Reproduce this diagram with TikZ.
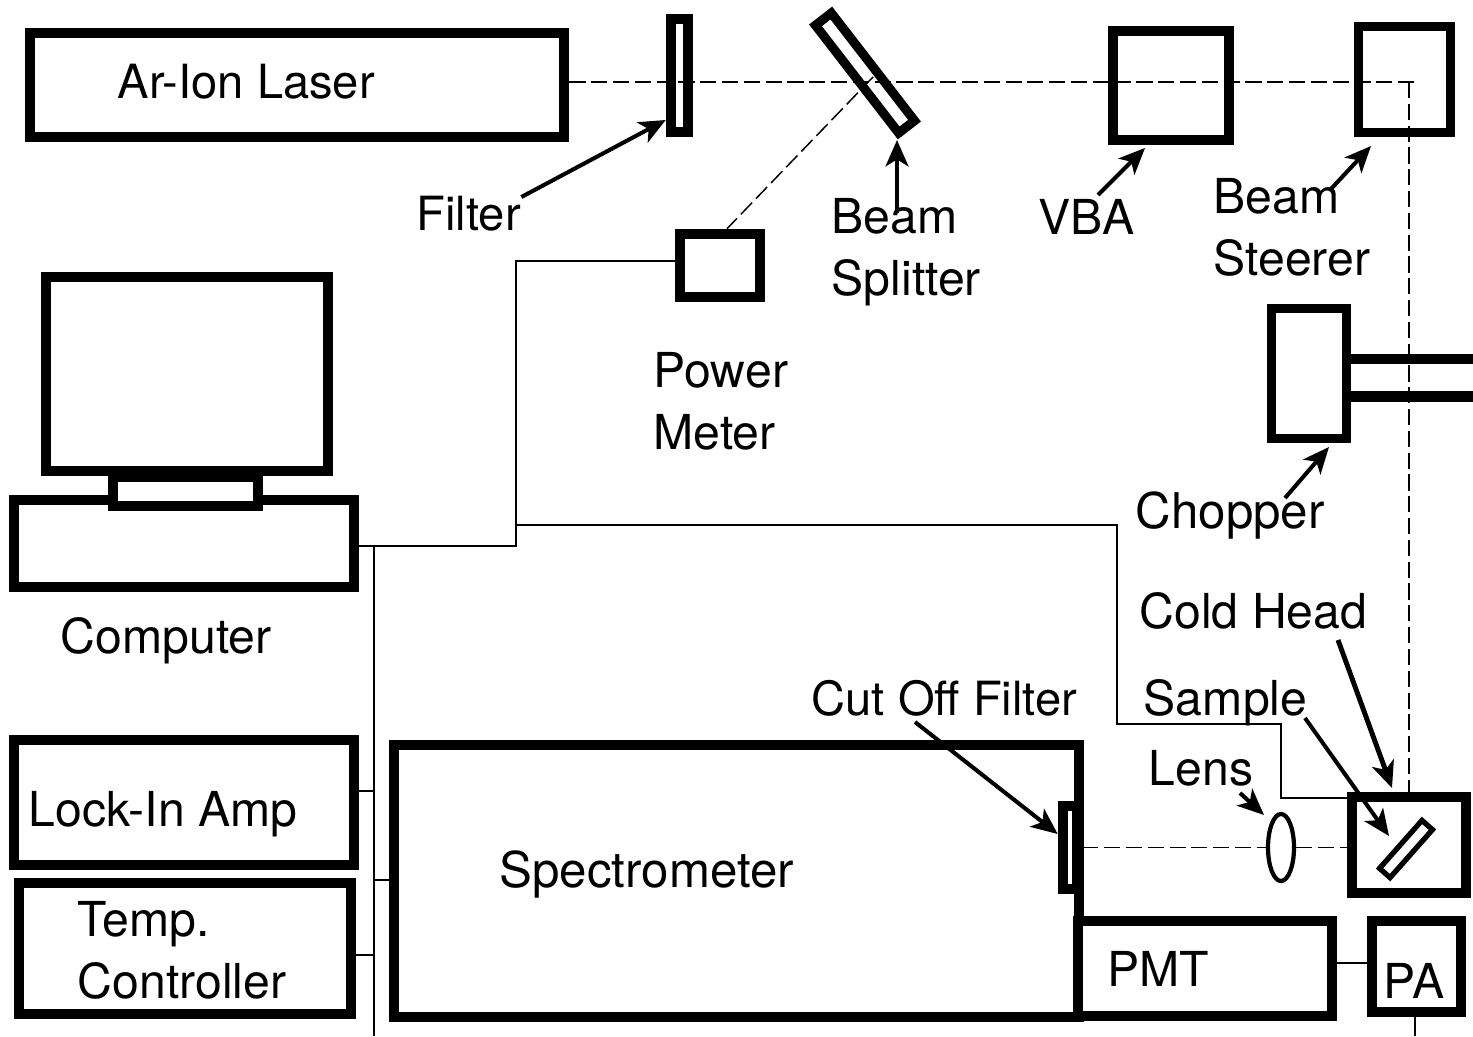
\documentclass[tikz,border=0pt]{standalone}
\usepackage{fontspec}
\setmainfont{TeX Gyre Heros}
\usetikzlibrary{arrows.meta,shapes.geometric}
\tikzset{
	box/.style={draw=black, line width=3pt, inner sep=0pt, fill=white},
	wire/.style={line width=0.42pt},
	beam/.style={line width=0.42pt, dash pattern=on 4.6pt off 1.6pt},
	pointer/.style={line width=1.15pt, -{Stealth[length=7.5pt,width=6.5pt,inset=2pt]}},
	caption/.style={inner sep=0pt, anchor=base west, align=left, font=\fontsize{13.7}{17.4}\selectfont},
	tightcaption/.style={caption, font=\fontsize{13.4}{17.4}\selectfont},
	widecaption/.style={caption, font=\fontsize{14}{17.4}\selectfont},
}

\begin{document}
\begin{tikzpicture}[x=0.01cm, y=-0.01cm]
		%%%%% START %%%%%
		\useasboundingbox (0, 0) rectangle (1473, 1036);
		
		\node[box, minimum width=5.34cm, minimum height=1.04cm] (laser) at (297, 85) {};
		\node[box, minimum width=0.17cm, minimum height=1.13cm] (filter) at (679.5, 75.5) {};
		\node[box, line width=2.6pt, minimum width=1.36cm, minimum height=0.20cm, rotate=-52.3] (splitter) at (865, 73) {};
		\node[box, minimum width=1.16cm, minimum height=1.09cm] (vba) at (1171, 85.5) {};
		\node[box, line width=2.7pt, minimum width=0.92cm, minimum height=1.06cm] (steerer) at (1404.5, 79.5) {};
		\node[box, minimum width=0.80cm, minimum height=0.63cm] (meter) at (720, 265.5) {};
		\node[box, line width=2.7pt, minimum width=0.75cm, minimum height=1.30cm] (chopper) at (1309, 373.5) {};
		
		\node[box, minimum width=3.40cm, minimum height=0.87cm] (computer) at (184, 543.5) {};
		\node[box, minimum width=1.45cm, minimum height=0.29cm] (stand) at (185.5, 491.5) {};
		\node[box, minimum width=2.82cm, minimum height=1.94cm] (monitor) at (187, 374) {};
		\node[box, minimum width=3.40cm, minimum height=1.25cm] (lockin) at (184, 802.5) {};
		\node[box, minimum width=3.32cm, minimum height=1.31cm] (tempctl) at (185, 948.5) {};
		
		\node[box, minimum width=6.85cm, minimum height=2.72cm] (spectro) at (736.5, 881) {};
		\node[draw, line width=3pt, inner sep=0pt, minimum width=0.14cm, minimum height=0.83cm] (cutoff) at (1070, 847.5) {};
		\node[box, minimum width=2.54cm, minimum height=0.95cm] (pmt) at (1205, 968.5) {};
		\node[box, minimum width=0.89cm, minimum height=0.91cm] (pa) at (1416.5, 966.5) {};
		\node[box, minimum width=1.14cm, minimum height=0.96cm] (coldhead) at (1409, 845) {};
		\node[box, line width=1.5pt, minimum width=0.64cm, minimum height=0.14cm, rotate=48.5] (sample) at (1406, 849) {};
		\node[draw, ellipse, line width=1.2pt, inner sep=0pt, minimum width=0.26cm, minimum height=0.67cm] (lens) at (1281, 847.5) {};
		
		\coordinate (beamturn) at (1409, 82);
		\coordinate (beamend) at (1417, 82);
		\coordinate (splitpoint) at (873, 77);
		\draw[beam] (laser.east |- 0, 82) -- (beamend);
		\draw[beam] (beamturn) -- (coldhead.north);
		\draw[beam] (splitpoint) -- (meter.north -| 727, 0);
		\draw[beam] (cutoff.east) -- (lens.west);
		\draw[beam] (lens.east) -- (coldhead.west |- lens.east);
		
		\coordinate (wirejoin) at (516, 525);
		\coordinate (busend) at (374, 1036);
		\coordinate (pabelow) at (1415, 1036);
		\draw[wire] (computer.east |- 0, 546) -- (516, 546) -- (516, 261) -- (meter.west |- 0, 261);
		\draw[wire] (wirejoin) -- (1117, 525) -- (1117, 724) -- (1281, 724) -- (1281, 798) -- (coldhead.west |- 0, 798);
		\draw[wire] (374, 546) -- (busend);
		\draw[wire] (lockin.east |- 0, 791) -- (374, 791);
		\draw[wire] (tempctl.east |- 0, 955) -- (374, 955);
		\draw[wire] (374, 880) -- (spectro.west |- 0, 880);
		\draw[wire] (pmt.east |- 0, 963) -- (pa.west |- 0, 963);
		\draw[wire] (pa.south -| pabelow) -- (pabelow);
		
		\coordinate (barend1) at (1473, 359);
		\coordinate (barend2) at (1473, 396.5);
		\draw[line width=2.9pt] (chopper.east |- barend1) -- (barend1);
		\draw[line width=2.9pt] (chopper.east |- barend2) -- (barend2);
		
		\node[tightcaption] (laserlabel) at (117, 98) {Ar-Ion Laser};
		\node[tightcaption] (filterlabel) at (416, 230) {Filter};
		\node[caption] (splitterlabel) at (831, 295) {Beam\\Splitter};
		\node[caption] (vbalabel) at (1038, 234) {VBA};
		\node[caption] (steererlabel) at (1213, 275) {Beam\\Steerer};
		\node[caption] (meterlabel) at (653, 449) {Power\\Meter};
		\node[widecaption] (chopperlabel) at (1135, 528) {Chopper};
		\node[caption] (coldlabel) at (1139, 628) {Cold Head};
		\node[caption] (samplelabel) at (1143, 715) {Sample};
		\node[caption] (lenslabel) at (1148, 785) {Lens};
		\node[tightcaption] (cutofflabel) at (811, 715) {Cut Off Filter};
		\node[caption] (computerlabel) at (60, 653) {Computer};
		\node[caption] (lockinlabel) at (28, 826) {Lock-In Amp};
		\node[caption] (templabel) at (77, 998) {Temp.\\Controller};
		\node[widecaption] (spectrolabel) at (499, 887) {Spectrometer};
		\node[caption] (pmtlabel) at (1107, 986) {PMT};
		\node[caption] (palabel) at (1383, 998) {PA};
		
		\draw[pointer] (filterlabel.east |- 0, 197) -- (filter.west |- 0, 120);
		\draw[pointer] (897, 213) -- (897, 140);
		\draw[pointer] (1098, 195) -- (1145, 148);
		\draw[pointer] (1330, 190) -- (1371, 146);
		\draw[pointer] (1285, 498) -- (1329, 447);
		\draw[pointer] (915, 722) -- (cutoff.west |- 0, 834);
		\draw[pointer, line width=1.4pt] (1338, 640) -- (1392, 788);
		\draw[pointer] (1305, 718) -- (1389, 836);
		\draw[pointer] (1240, 793) -- (1264, 815);
		%%%%% END %%%%%
	\end{tikzpicture}
\end{document}
